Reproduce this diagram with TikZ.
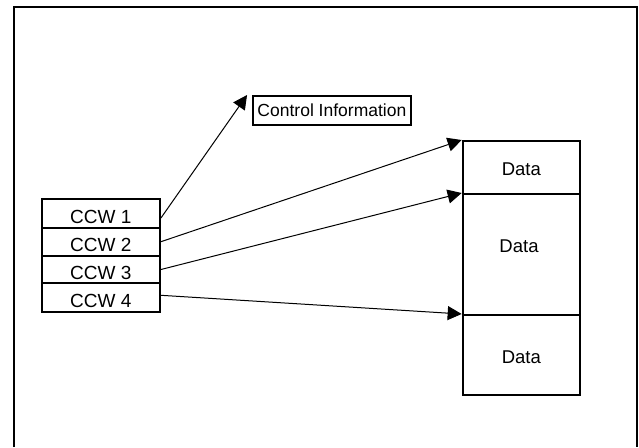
\documentclass[tikz,border=0pt]{standalone}
\usepackage{fontspec}
\setmainfont{Liberation Sans}
\usetikzlibrary{arrows.meta}
\begin{document}
\begin{tikzpicture}[x=1pt,y=-1pt,
  box/.style={draw,line width=2pt,rectangle,inner sep=0pt},
  ccwbox/.style={box,minimum width=118.3pt,font=\fontsize{19}{22}\selectfont,text height=20pt,text depth=0pt},
  databox/.style={box,minimum width=117.3pt,font=\fontsize{18.5}{22}\selectfont,text height=16.2pt,text depth=0pt},
  lbl/.style={inner sep=0pt,font=\fontsize{18.5}{22}\selectfont},
  conn/.style={line width=1pt,-{Triangle[length=14pt,width=14pt]}}]
\useasboundingbox (0,0) rectangle (639,447);
\draw[line width=2pt] (14,447) -- (14,7.3) -- (636.7,7.3) -- (636.7,447);
% CCW stack
\node[ccwbox,minimum height=28.3pt] (ccw1) at (100.8,213.5) {CCW 1};
\node[ccwbox,minimum height=28pt] (ccw2) at (100.8,241.7) {CCW 2};
\node[ccwbox,minimum height=27.6pt] (ccw3) at (100.8,269.5) {CCW 3};
\node[ccwbox,minimum height=29pt] (ccw4) at (100.8,297.8) {CCW 4};
% control information
\node[box,minimum width=157.7pt,minimum height=29pt,font=\fontsize{17.5}{20}\selectfont] (ctrl) at (331.9,110.5) {Control Information};
% data blocks
\node[databox,minimum height=53pt] (d1) at (521.3,167.5) {Data};
\node[box,minimum width=117.3pt,minimum height=121pt] (d2) at (521.3,254.5) {};
\node[lbl] (d2t) at (519,246) {Data};
\node[databox,minimum height=80pt] (d3) at (521.3,355) {Data};
% connectors
\coordinate (ctip) at ([xshift=-5pt]ctrl.north west);
\draw[conn] ([yshift=-4.5pt]ccw1.east) -- (ctip);
\draw[conn] (ccw2.east) -- (d1.north west);
\draw[conn] (ccw3.east) -- (d2.north west);
\draw[conn] ([yshift=2.5pt]ccw4.east) -- (d3.north west);
\end{tikzpicture}
\end{document}
